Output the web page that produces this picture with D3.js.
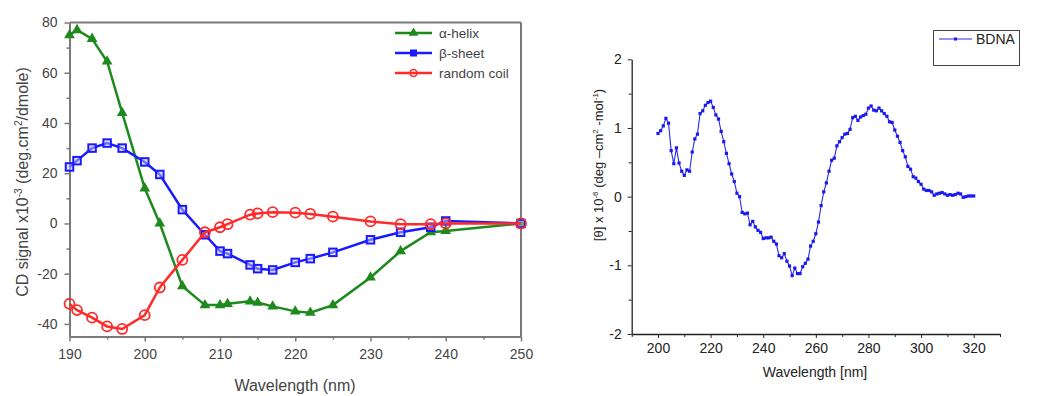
<!DOCTYPE html>
<html>
<head>
<meta charset="utf-8">
<script src="https://cdn.jsdelivr.net/npm/d3@7"></script>
<style>
  body { margin: 0; background: #fff; }
  svg { display: block; font-family: "Liberation Sans", Arial, sans-serif; }
</style>
</head>
<body>
<svg id="chart" width="1056" height="396"></svg>
<script>
// left panel: CD reference spectra
const wl = [190, 191, 193, 195, 197, 200, 202, 205, 208, 210, 211, 214, 215, 217, 220, 222, 225, 230, 234, 238, 240, 250];
const helix = [75, 77, 73.5, 64.5, 44, 14, 0, -25, -32.5, -32.5, -32, -31, -31.5, -33, -35, -35.5, -32.5, -21.5, -11, -3.5, -3, 0];
const sheet = [22.5, 25, 30, 32, 30, 24.5, 19.5, 5.5, -4.5, -11, -12, -16.5, -18, -18.5, -15.5, -14, -11.5, -6.5, -3.5, -1.5, 1, 0];
const coil = [-32, -34.5, -37.5, -41, -42, -36.5, -25.5, -14.5, -3.5, -1.5, -0.3, 3.5, 4, 4.5, 4.3, 3.8, 2.7, 0.8, -0.3, -0.3, 0, 0];
const leftXTicks = [190, 200, 210, 220, 230, 240, 250];
const leftYTicks = [-40, -20, 0, 20, 40, 60, 80];

// right panel: BDNA spectrum, one point per nm from 200 to 320
const bdnaStart = 200;
const bdna = [
  0.92, 0.96, 1.03, 1.14, 1.07, 0.67, 0.48, 0.71, 0.49, 0.37,
  0.31, 0.39, 0.37, 0.65, 0.84, 0.91, 1.21, 1.25, 1.33, 1.37,
  1.39, 1.30, 1.19, 1.13, 0.95, 0.80, 0.63, 0.48, 0.33, 0.22,
  0.05, 0.00, -0.23, -0.25, -0.24, -0.41, -0.36, -0.44, -0.49, -0.52,
  -0.61, -0.60, -0.60, -0.59, -0.65, -0.69, -0.86, -0.89, -0.83, -0.94,
  -1.01, -1.15, -1.04, -1.12, -1.12, -1.02, -0.97, -0.91, -0.72, -0.65,
  -0.54, -0.37, -0.13, 0.07, 0.20, 0.37, 0.53, 0.56, 0.74, 0.80,
  0.86, 0.91, 0.92, 0.98, 1.15, 1.17, 1.11, 1.16, 1.18, 1.20,
  1.29, 1.32, 1.26, 1.25, 1.29, 1.25, 1.21, 1.17, 1.09, 1.08,
  0.97, 0.88, 0.79, 0.67, 0.58, 0.44, 0.40, 0.29, 0.27, 0.22,
  0.18, 0.11, 0.09, 0.09, 0.07, 0.02, 0.04, 0.05, 0.06, 0.04,
  0.02, 0.03, 0.02, 0.03, 0.05, 0.04, -0.01, 0.00, 0.01, 0.01,
  0.01
];
const rightXTicks = [200, 220, 240, 260, 280, 300, 320];
const rightYTicks = [-2, -1, 0, 1, 2];

const svg = d3.select("#chart");
const plain = d => String(d);   // hyphen minus like the source

// ---------- left chart ----------
const x = d3.scaleLinear().domain([190, 250]).range([69.5, 521]);
const y = d3.scaleLinear().domain([-45, 80]).range([336.5, 22.5]);
const axisGray = "#7a7a7a";

const left = svg.append("g");

// frame top/right
left.append("line").attr("x1", x(190)).attr("x2", x(250)).attr("y1", y(80)).attr("y2", y(80))
  .attr("stroke", axisGray).attr("stroke-width", 2);
left.append("line").attr("x1", x(250)).attr("x2", x(250)).attr("y1", y(80)).attr("y2", y(-45))
  .attr("stroke", axisGray).attr("stroke-width", 2);

function styleAxis(g, color, width) {
  g.select(".domain").attr("stroke", color).attr("stroke-width", width);
  g.selectAll(".tick line").attr("stroke", color).attr("stroke-width", width * 0.75);
}

const lxAxis = left.append("g").attr("transform", `translate(0,${y(-45)})`)
  .call(d3.axisBottom(x).tickValues(leftXTicks).tickFormat(plain).tickSize(5).tickSizeOuter(0).tickPadding(8));
left.append("g").attr("transform", `translate(0,${y(-45)})`)
  .call(d3.axisBottom(x).tickValues(d3.range(195, 250, 10)).tickSize(3).tickFormat(""))
  .call(g => { g.select(".domain").remove(); g.selectAll("line").attr("stroke", axisGray).attr("stroke-width", 1.5); });
const lyAxis = left.append("g").attr("transform", `translate(${x(190)},0)`)
  .call(d3.axisLeft(y).tickValues(leftYTicks).tickFormat(plain).tickSize(5).tickSizeOuter(0).tickPadding(7));
left.append("g").attr("transform", `translate(${x(190)},0)`)
  .call(d3.axisLeft(y).tickValues([-30, -10, 10, 30, 50, 70]).tickSize(3).tickFormat(""))
  .call(g => { g.select(".domain").remove(); g.selectAll("line").attr("stroke", axisGray).attr("stroke-width", 1.5); });
[lxAxis, lyAxis].forEach(g => {
  styleAxis(g, axisGray, 2);
  g.selectAll("text").attr("font-size", 14).attr("fill", "#444").attr("font-family", "Liberation Sans, Arial, sans-serif");
});

const leftSeries = [
  { name: "\u03B1-helix", vals: helix, color: "#1e8a1e", shape: "tri" },
  { name: "\u03B2-sheet", vals: sheet, color: "#1a1aff", shape: "sq" },
  { name: "random coil", vals: coil, color: "#ff2a2a", shape: "circ" }
];

const line = d3.line().x(d => x(d[0])).y(d => y(d[1]));

function drawMarker(g, shape, color, cx, cy, s) {
  if (shape === "tri") {
    g.append("path").attr("d", d3.symbol(d3.symbolTriangle, s * s * 0.5)())
      .attr("transform", `translate(${cx},${cy})`).attr("fill", color);
  } else if (shape === "sq") {
    g.append("rect").attr("x", cx - s / 2 + 1).attr("y", cy - s / 2 + 1).attr("width", s - 2).attr("height", s - 2)
      .attr("fill", "#c8c8ff").attr("fill-opacity", 0.5).attr("stroke", color).attr("stroke-width", 2);
  } else {
    g.append("circle").attr("cx", cx).attr("cy", cy).attr("r", s / 2)
      .attr("fill", "none").attr("stroke", color).attr("stroke-width", 1.8);
  }
}

leftSeries.forEach(s => {
  const pts = wl.map((w, i) => [w, s.vals[i]]);
  left.append("path").datum(pts).attr("d", line)
    .attr("fill", "none").attr("stroke", s.color).attr("stroke-width", 2.5);
  const mg = left.append("g");
  pts.forEach(p => drawMarker(mg, s.shape, s.color, x(p[0]), y(p[1]), s.shape === "sq" ? 9.5 : 10));
});

// legend
leftSeries.forEach((s, i) => {
  const ly = 33 + i * 20;
  left.append("line").attr("x1", 395).attr("x2", 432).attr("y1", ly).attr("y2", ly)
    .attr("stroke", s.color).attr("stroke-width", 2.5);
  if (s.shape === "tri") drawMarker(left, "tri", s.color, 413.5, ly, 9);
  if (s.shape === "sq") left.append("rect").attr("x", 410).attr("y", ly - 3.5).attr("width", 7).attr("height", 7).attr("fill", s.color);
  if (s.shape === "circ") left.append("circle").attr("cx", 413.5).attr("cy", ly).attr("r", 3.5)
    .attr("fill", "none").attr("stroke", s.color).attr("stroke-width", 1.5);
  left.append("text").attr("x", 439).attr("y", ly + 5).text(s.name)
    .attr("font-size", 13.5).attr("fill", "#444");
});

// axis titles
left.append("text").attr("x", 295).attr("y", 391).attr("text-anchor", "middle")
  .attr("font-size", 16).attr("fill", "#444").text("Wavelength (nm)");
const lyt = left.append("text").attr("transform", "translate(28,182) rotate(-90)")
  .attr("text-anchor", "middle").attr("font-size", 16).attr("fill", "#444");
lyt.append("tspan").text("CD signal x10");
lyt.append("tspan").attr("dy", -6).attr("font-size", 10).text("-3");
lyt.append("tspan").attr("dy", 6).text(" (deg.cm");
lyt.append("tspan").attr("dy", -6).attr("font-size", 10).text("2");
lyt.append("tspan").attr("dy", 6).text("/dmole)");

// ---------- right chart ----------
const x2 = d3.scaleLinear().domain([190, 330]).range([631.7, 1000]);
const y2 = d3.scaleLinear().domain([-2, 2]).range([334, 59.3]);
const right = svg.append("g");
const ink = "#222";

const rx = right.append("g").attr("transform", `translate(0,${y2(-2)})`)
  .call(d3.axisBottom(x2).tickValues(rightXTicks).tickFormat(plain).tickSize(4).tickSizeOuter(0).tickPadding(5));
right.append("g").attr("transform", `translate(0,${y2(-2)})`)
  .call(d3.axisBottom(x2).tickValues(d3.range(190, 331, 20)).tickSize(3).tickFormat(""))
  .call(g => { g.select(".domain").remove(); g.selectAll("line").attr("stroke", ink); });
const ry = right.append("g").attr("transform", `translate(${x2(190)},0)`)
  .call(d3.axisLeft(y2).tickValues(rightYTicks).tickFormat(plain).tickSize(4).tickSizeOuter(0).tickPadding(6));
right.append("g").attr("transform", `translate(${x2(190)},0)`)
  .call(d3.axisLeft(y2).tickValues([-1.5, -0.5, 0.5, 1.5]).tickSize(3).tickFormat(""))
  .call(g => { g.select(".domain").remove(); g.selectAll("line").attr("stroke", ink); });
[rx, ry].forEach(g => {
  styleAxis(g, ink, 1.3);
  g.selectAll("text").attr("font-size", 14).attr("fill", ink).attr("font-family", "Liberation Sans, Arial, sans-serif");
});

const bdnaPts = bdna.map((v, i) => [bdnaStart + i, v]);
const line2 = d3.line().x(d => x2(d[0])).y(d => y2(d[1]));
right.append("path").datum(bdnaPts).attr("d", line2)
  .attr("fill", "none").attr("stroke", "#2a2aee").attr("stroke-width", 1.1);
right.append("g").selectAll("rect").data(bdnaPts).join("rect")
  .attr("x", d => x2(d[0]) - 1.6).attr("y", d => y2(d[1]) - 1.6)
  .attr("width", 3.2).attr("height", 3.2).attr("fill", "#1a1af0");

// legend box
right.append("rect").attr("x", 933.5).attr("y", 30.5).attr("width", 86).attr("height", 35)
  .attr("fill", "#fff").attr("stroke", "#444").attr("stroke-width", 1);
right.append("line").attr("x1", 939).attr("x2", 972).attr("y1", 39).attr("y2", 39)
  .attr("stroke", "#2a2aee").attr("stroke-width", 1.1);
right.append("rect").attr("x", 954).attr("y", 37.5).attr("width", 3).attr("height", 3).attr("fill", "#1a1af0");
right.append("text").attr("x", 976).attr("y", 44).attr("font-size", 14).attr("fill", ink).text("BDNA");

// axis titles
right.append("text").attr("x", 815).attr("y", 377).attr("text-anchor", "middle")
  .attr("font-size", 14).attr("fill", ink).text("Wavelength [nm]");
const ryt = right.append("text").attr("transform", "translate(603,165) rotate(-90)")
  .attr("text-anchor", "middle").attr("font-size", 13).attr("fill", ink);
ryt.append("tspan").text("[\u03B8] x 10");
ryt.append("tspan").attr("dy", -5).attr("font-size", 8).text("-6");
ryt.append("tspan").attr("dy", 5).text(" (deg \u2013cm");
ryt.append("tspan").attr("dy", -5).attr("font-size", 8).text("2");
ryt.append("tspan").attr("dy", 5).text(" -mol");
ryt.append("tspan").attr("dy", -5).attr("font-size", 8).text("-1");
ryt.append("tspan").attr("dy", 5).text(")");
</script>
</body>
</html>
